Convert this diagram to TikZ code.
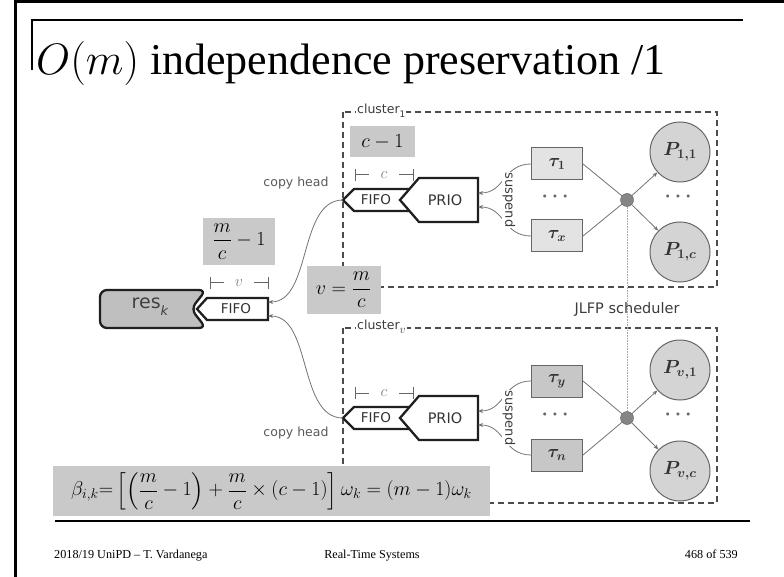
\documentclass[tikz,border=0pt]{standalone}
\usepackage{fix-cm}
\usepackage{amsmath}
\usepackage{fontspec}
\setmainfont{Liberation Serif}
\newfontfamily\dvs{DejaVu Sans}
\usetikzlibrary{arrows.meta}
\definecolor{boxgray}{RGB}{201,201,201}
\definecolor{txtgray}{RGB}{60,60,60}
\newcommand{\lowsub}[2]{\raisebox{-0.35em}{\fontsize{#1}{#1}\selectfont #2}}
\begin{document}
\begin{tikzpicture}[x=1pt,y=-1pt,
  thickq/.style={draw=black!88, line width=2.3pt, fill=white, line join=miter},
  fbox/.style={fill=boxgray, inner sep=0pt, font=\fontsize{20}{23}\selectfont},
  lab/.style={font=\dvs\fontsize{12.5}{14}\selectfont, text=txtgray, inner sep=1pt},
  conn/.style={draw=black!55, line width=0.8pt},
  arr/.style={conn, -{Stealth[length=5pt,width=4pt]}},
  taubox/.style={draw=black!60, line width=1pt, minimum width=51pt, minimum height=32pt, inner sep=0pt, font=\fontsize{18}{20}\selectfont\boldmath, text=black!80},
  proc/.style={circle, draw=black!60, line width=1pt, fill=black!17, minimum size=60pt, inner sep=0pt, font=\fontsize{19}{21}\selectfont\boldmath, text=black!80},
  dotn/.style={circle, draw=black!65, fill=black!48, minimum size=13pt, inner sep=0pt},
  clus/.style={draw=black!70, line width=1.3pt, dash pattern=on 6pt off 4pt},
  dots/.style={text=black!60, font=\fontsize{20}{20}\selectfont\boldmath},
  brk/.style={draw=black!60, line width=1pt},
  brkl/.style={text=black!50, font=\fontsize{16}{16}\selectfont, inner sep=0pt},
  qtext/.style={font=\dvs\fontsize{13.5}{14}\selectfont, text=black!80, inner sep=0pt},
  foot/.style={font=\fontsize{12.2}{14}\selectfont, inner sep=0pt, anchor=base}
]
\useasboundingbox (0,0) rectangle (784,577);
% slide frame
\draw[line width=3pt] (784,1.5) -- (15,1.5) -- (15,577);
\draw[line width=1.2pt] (32,70) -- (32,20) -- (743,20);
\node[anchor=base west, inner sep=0pt] (title) at (36,75) {\fontsize{44}{50}\selectfont $O(m)$ independence preservation /1};

% clusters
\draw[clus] (343,112) rectangle (717,287);
\node[lab, fill=white, anchor=west] (cl1) at (356,111) {cluster\lowsub{9}{1}};
\draw[clus] (343,328) rectangle (717,503);
\node[lab, fill=white, anchor=west] (clv) at (356,327) {cluster\lowsub{12}{$v$}};

% JLFP scheduler
\node[dotn] (s1) at (627,200) {};
\node[dotn] (s2) at (627,418) {};
\draw[densely dotted, draw=black!35, line width=0.6pt] (s1) -- (s2);
\node[lab, font=\dvs\fontsize{14.5}{16}\selectfont] (jlfp) at (627,309) {JLFP scheduler};

% ---------- upper cluster ----------
\draw[thickq] (343,200) -- (354,189) -- (428,189) -- (428,211) -- (354,211) -- cycle;
\node[qtext] (fifo1) at (376,200) {FIFO};
\draw[thickq] (400,200) -- (419,178) -- (478,178) -- (478,222) -- (419,222) -- cycle;
\node[qtext, font=\dvs\fontsize{14.5}{15}\selectfont] (prio1) at (445,200) {PRIO};
\coordinate (f1tip) at (343,200);
\coordinate (p1a) at (478,193);
\coordinate (p1b) at (478,207);
\draw[brk] (355,169) -- (355,181) (355,175) -- (369,175) (399,175) -- (413,175) (413,169) -- (413,181);
\node[brkl] (bc1) at (384,175) {$c$};
\node[lab, text=black!65] (ch1) at (296,183) {copy head};

\node[taubox, fill=black!11] (t1) at (557,164) {$\tau_1$};
\node[taubox, fill=black!11] (tx) at (557,236) {$\tau_x$};
\node[dots] (d1) at (557,197) {$\cdots$};
\node[proc] (p11) at (680,152) {$P_{1,1}$};
\node[proc] (p1c) at (680,252) {$P_{1,c}$};
\node[dots] (d2) at (680,197) {$\cdots$};
\draw[conn] (t1.east) -- (s1);
\draw[conn] (tx.east) -- (s1);
\draw[arr] (s1) -- (p11);
\draw[arr] (s1) -- (p1c);
\draw[arr] (t1.west) .. controls (503,164) and (505,193) .. (p1a);
\draw[arr] (tx.west) .. controls (503,236) and (505,207) .. (p1b);
\node[lab, rotate=-90, fill=white, inner sep=0.5pt, font=\dvs\fontsize{13}{14}\selectfont] (sus1) at (509,200) {suspend};

% ---------- lower cluster ----------
\draw[thickq] (343,418) -- (354,407) -- (428,407) -- (428,429) -- (354,429) -- cycle;
\node[qtext] (fifo2) at (376,418) {FIFO};
\draw[thickq] (400,418) -- (419,396) -- (478,396) -- (478,440) -- (419,440) -- cycle;
\node[qtext, font=\dvs\fontsize{14.5}{15}\selectfont] (prio2) at (445,418) {PRIO};
\coordinate (f2tip) at (343,418);
\coordinate (p2a) at (478,411);
\coordinate (p2b) at (478,425);
\draw[brk] (355,387) -- (355,399) (355,393) -- (369,393) (399,393) -- (413,393) (413,387) -- (413,399);
\node[brkl] (bc2) at (384,393) {$c$};
\node[lab, text=black!65] (ch2) at (296,433) {copy head};

\node[taubox, fill=black!22] (ty) at (557,381) {$\tau_y$};
\node[taubox, fill=black!22] (tn) at (557,455) {$\tau_n$};
\node[dots] (d3) at (557,415) {$\cdots$};
\node[proc] (pv1) at (680,370) {$P_{v,1}$};
\node[proc] (pvc) at (680,471) {$P_{v,c}$};
\node[dots] (d4) at (680,415) {$\cdots$};
\draw[conn] (ty.east) -- (s2);
\draw[conn] (tn.east) -- (s2);
\draw[arr] (s2) -- (pv1);
\draw[arr] (s2) -- (pvc);
\draw[arr] (ty.west) .. controls (503,381) and (505,411) .. (p2a);
\draw[arr] (tn.west) .. controls (503,455) and (505,425) .. (p2b);
\node[lab, rotate=-90, fill=white, inner sep=0.5pt, font=\dvs\fontsize{13}{14}\selectfont] (sus2) at (509,418) {suspend};

% ---------- resource queue ----------
\draw[thickq, fill=black!25, rounded corners=7pt] (206,290) -- (100,290) -- (100,328) -- (206,328) -- (191,309) -- cycle;
\node[font=\dvs\fontsize{19}{20}\selectfont, text=black!75, inner sep=0pt] (res) at (150,307) {res\lowsub{13}{\itshape k}};
\draw[thickq] (197,309) -- (207,298) -- (268,298) -- (268,320) -- (207,320) -- cycle;
\node[qtext] (fifo0) at (236,309) {FIFO};
\coordinate (q0a) at (268,302);
\coordinate (q0b) at (268,316);
\draw[brk] (210,277) -- (210,289) (210,283) -- (224,283) (254,283) -- (268,283) (268,277) -- (268,289);
\node[brkl] (bv) at (239,283) {$v$};

\draw[arr] (f1tip) .. controls (298,200) and (312,302) .. (q0a);
\draw[arr] (f2tip) .. controls (298,418) and (312,316) .. (q0b);

% ---------- formula boxes ----------
\node[fbox, minimum width=65pt, minimum height=31pt] (cm1) at (382.5,142) {$c-1$};
\node[fbox, minimum width=72pt, minimum height=47pt] (mc1) at (239,241.5) {$\dfrac{m}{c}-1$};
\node[fbox, minimum width=74pt, minimum height=47pt] (vmc) at (343.5,290) {$v=\dfrac{m}{c}$};
\node[fbox, minimum width=437pt, minimum height=50pt] (beta) at (271.5,491)
  {$\beta_{i,k}{=}\left[\left(\dfrac{m}{c}-1\right)+\dfrac{m}{c}\times(c-1)\right]\omega_k=(m-1)\omega_k$};

% footer
\draw[line width=2pt] (55,521) -- (750,521);
\node[foot, anchor=base west] (f1) at (54,558) {2018/19 UniPD -- T. Vardanega};
\node[foot] (f2) at (372,558) {Real-Time Systems};
\node[foot, anchor=base east] (f3) at (738,558) {468 of 539};
\end{tikzpicture}
\end{document}
